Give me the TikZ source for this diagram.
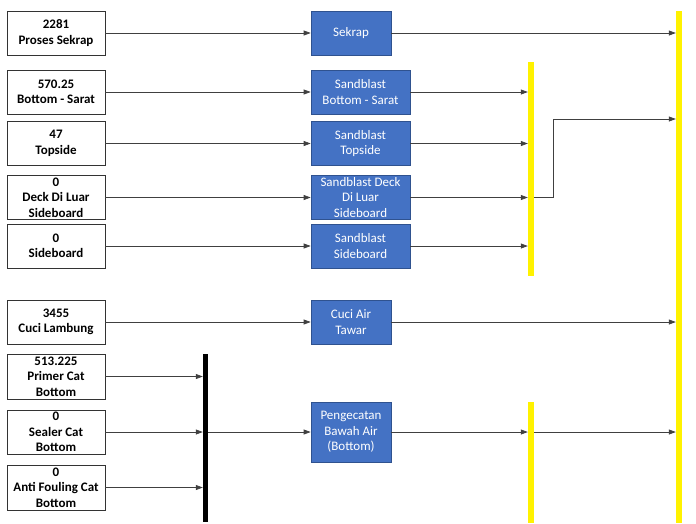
\documentclass[tikz,border=0pt]{standalone}
\usepackage{fontspec}
\setmainfont{Carlito}
\usetikzlibrary{arrows.meta}
\definecolor{procblue}{RGB}{68,114,196}
\definecolor{procedge}{RGB}{47,82,143}
\tikzset{
  inbox/.style={draw=black!80, line width=0.7pt, minimum width=98pt, minimum height=44pt, inner sep=0pt, align=center, font=\fontsize{13}{15.5}\selectfont\bfseries},
  proc/.style={draw=procedge, fill=procblue, line width=0.7pt, text=white, minimum width=80pt, minimum height=44pt, inner sep=0pt, align=center, font=\fontsize{13}{15.5}\selectfont},
  sbproc/.style={proc, minimum width=99pt},
  ybar/.style={fill=yellow, inner sep=0pt, minimum width=6pt},
  flow/.style={draw=black!75, line width=0.7pt, -{Triangle[length=7pt,width=5pt]}},
}
\begin{document}
\begin{tikzpicture}[x=1pt,y=-1pt]
  \useasboundingbox (0,0) rectangle (696,523);
  \node[inbox] (sekrapin) at (56,33) {2281\\Proses Sekrap};
  \node[inbox] (sarat) at (56,92) {570.25\\Bottom - Sarat};
  \node[inbox] (topside) at (56,143.5) {47\\Topside};
  \node[inbox] (deck) at (56,197.5) {0\\Deck Di Luar\\Sideboard};
  \node[inbox] (side) at (56,246) {0\\Sideboard};
  \node[inbox] (lambung) at (56,322) {3455\\Cuci Lambung};
  \node[inbox, minimum height=45pt] (primer) at (56,376.5) {513.225\\Primer Cat\\Bottom};
  \node[inbox] (sealer) at (56,432) {0\\Sealer Cat\\Bottom};
  \node[inbox, minimum height=45pt] (antif) at (56,487.5) {0\\Anti Fouling Cat\\Bottom};
  \node[proc] (sekrap) at (351,33) {Sekrap};
  \node[sbproc] (sbsarat) at (360.5,92) {Sandblast\\Bottom - Sarat};
  \node[sbproc] (sbtop) at (360.5,143.5) {Sandblast\\Topside};
  \node[sbproc] (sbdeck) at (360.5,197.5) {Sandblast Deck\\Di Luar\\Sideboard};
  \node[sbproc] (sbside) at (360.5,246) {Sandblast\\Sideboard};
  \node[proc] (tawar) at (351,322) {Cuci Air\\Tawar};
  \node[proc, minimum height=60pt] (cat) at (351,432) {Pengecatan\\Bawah Air\\(Bottom)};
  \node[ybar, minimum height=214pt] (bar1) at (531,169) {};
  \node[ybar, minimum height=121pt] (bar2) at (531,462.5) {};
  \node[ybar, minimum height=512pt] (bar3) at (679,267) {};
  \node[fill=black, inner sep=0pt, minimum width=5pt, minimum height=168pt] (blk) at (205.5,438) {};
  \coordinate (elb) at (553,119);
  \draw[flow] (sekrapin) -- (sekrap);
  \draw[flow] (sarat) -- (sbsarat);
  \draw[flow] (topside) -- (sbtop);
  \draw[flow] (deck) -- (sbdeck);
  \draw[flow] (side) -- (sbside);
  \draw[flow] (lambung) -- (tawar);
  \draw[flow] (primer) -- (primer -| blk.west);
  \draw[flow] (sealer) -- (sealer -| blk.west);
  \draw[flow] (antif) -- (antif -| blk.west);
  \draw[flow] (cat -| blk.east) -- (cat);
  \draw[flow] (sekrap) -- (sekrap -| bar3.west);
  \draw[flow] (sbsarat) -- (sbsarat -| bar1.west);
  \draw[flow] (sbtop) -- (sbtop -| bar1.west);
  \draw[flow] (sbdeck) -- (sbdeck -| bar1.west);
  \draw[flow] (sbside) -- (sbside -| bar1.west);
  \draw[flow] (sbdeck -| bar1.east) -| (elb) -- (elb -| bar3.west);
  \draw[flow] (tawar) -- (tawar -| bar3.west);
  \draw[flow] (cat) -- (cat -| bar2.west);
  \draw[flow] (cat -| bar2.east) -- (cat -| bar3.west);
\end{tikzpicture}
\end{document}
